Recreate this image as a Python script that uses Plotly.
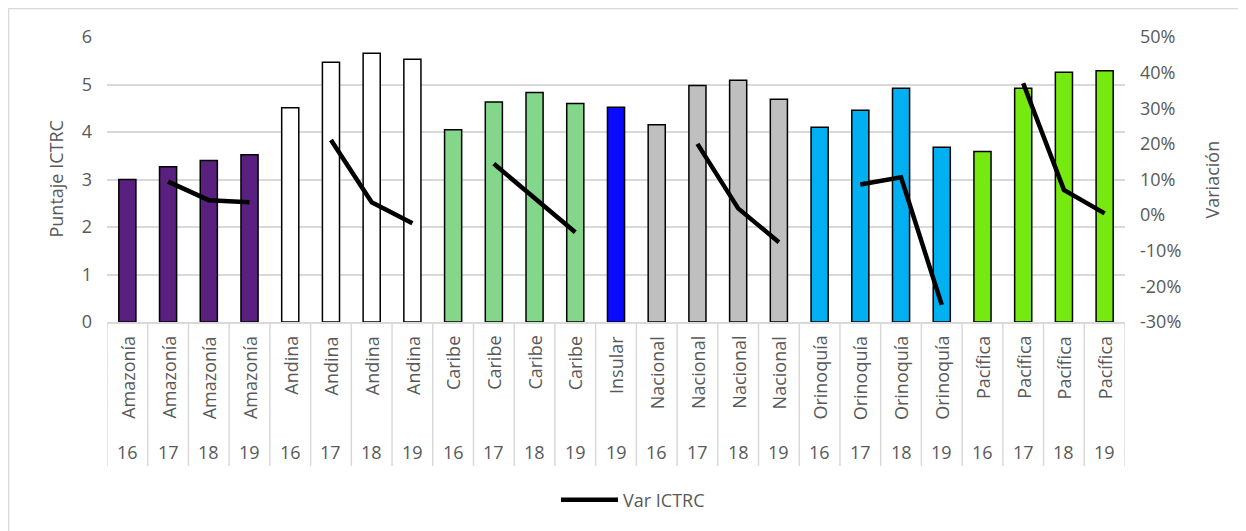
import plotly.graph_objects as go

regions = ["Amazonía"] * 4 + ["Andina"] * 4 + ["Caribe"] * 4 + ["Insular"] + ["Nacional"] * 4 + ["Orinoquía"] * 4 + ["Pacífica"] * 4
years = ["16", "17", "18", "19", "16", "17", "18", "19", "16", "17", "18", "19", "19",
         "16", "17", "18", "19", "16", "17", "18", "19", "16", "17", "18", "19"]
puntaje = [3.00, 3.27, 3.40, 3.52,
           4.51, 5.47, 5.66, 5.53,
           4.05, 4.63, 4.83, 4.60,
           4.52,
           4.15, 4.98, 5.09, 4.69,
           4.10, 4.46, 4.92, 3.68,
           3.59, 4.92, 5.26, 5.29]
var_ictrc = [None, 0.094, 0.042, 0.036,
             None, 0.211, 0.036, -0.023,
             None, 0.144, 0.046, -0.048,
             None,
             None, 0.200, 0.019, -0.076,
             None, 0.086, 0.106, -0.252,
             None, 0.370, 0.071, 0.005]
y2_tickvals = [-0.3, -0.2, -0.1, 0.0, 0.1, 0.2, 0.3, 0.4, 0.5]
y2_ticktext = ["-30%", "-20%", "-10%", "0%", "10%", "20%", "30%", "40%", "50%"]

region_colors = {
    "Amazonía": "#59207F",
    "Andina": "#FFFFFF",
    "Caribe": "#83D68A",
    "Insular": "#0A0AFF",
    "Nacional": "#BFBFBF",
    "Orinoquía": "#00B0F0",
    "Pacífica": "#76EA10",
}

cats = [f"{r} {y}" for r, y in zip(regions, years)]
FONT = "Open Sans"
FS = 18
TXT = "#595959"
GRID = "#D9D9D9"

fig = go.Figure()
fig.add_trace(go.Bar(
    x=cats, y=puntaje,
    marker=dict(color=[region_colors[r] for r in regions],
                line=dict(color="#000000", width=1.5)),
    showlegend=False, name="Puntaje ICTRC",
))
fig.add_trace(go.Scatter(
    x=cats, y=var_ictrc, yaxis="y2", mode="lines",
    line=dict(color="#000000", width=4.5),
    connectgaps=False, name="Var ICTRC",
))

# page body has an 8px margin; work in page pixels and convert
OFF = 8
W, H = 1246 - OFF, 531 - OFF
L, R, T, B = 107 - OFF, 1125 - OFF, 37 - OFF, 322 - OFF
pw, ph = R - L, B - T


def px_x(p):
    return (p - OFF - L) / pw


def px_y(p):
    return (B - (p - OFF)) / ph


shapes = []
# outer border (only top/left visible)
shapes.append(dict(type="rect", xref="paper", yref="paper",
                   x0=px_x(8.5), x1=px_x(1300), y0=px_y(600), y1=px_y(8.5),
                   line=dict(color=GRID, width=1.5), layer="below"))
# category dividers
for i in range(len(cats) + 1):
    shapes.append(dict(type="line", xref="x", yref="paper",
                       x0=i - 0.5, x1=i - 0.5, y0=0, y1=px_y(466),
                       line=dict(color=GRID, width=1.5)))

annotations = []
for c, r, y in zip(cats, regions, years):
    annotations.append(dict(x=c, xref="x", yref="paper", y=px_y(334),
                            text=r, textangle=-90, showarrow=False,
                            xanchor="center", yanchor="top",
                            font=dict(family=FONT, size=FS, color=TXT)))
    annotations.append(dict(x=c, xref="x", yref="paper", y=px_y(452),
                            text=y, showarrow=False,
                            xanchor="center", yanchor="middle",
                            font=dict(family=FONT, size=FS, color=TXT)))
annotations.append(dict(x=px_x(55), y=0.5, xref="paper", yref="paper",
                        text="Puntaje ICTRC", textangle=-90, showarrow=False,
                        xanchor="center", yanchor="middle",
                        font=dict(family=FONT, size=FS, color=TXT)))
annotations.append(dict(x=px_x(1211), y=0.5, xref="paper", yref="paper",
                        text="Variación", textangle=-90, showarrow=False,
                        xanchor="center", yanchor="middle",
                        font=dict(family=FONT, size=FS, color=TXT)))

fig.update_layout(
    width=W, height=H,
    margin=dict(l=L, r=W - R, t=T, b=H - B, autoexpand=False),
    paper_bgcolor="#FFFFFF", plot_bgcolor="#FFFFFF",
    bargap=0.58,
    font=dict(family=FONT, size=FS, color=TXT),
    xaxis=dict(type="category", showticklabels=False, showgrid=False,
               showline=True, linecolor=GRID, linewidth=1.5,
               ticks="", range=[-0.5, len(cats) - 0.5], zeroline=False),
    yaxis=dict(range=[0, 6], dtick=1, showgrid=True, gridcolor=GRID,
               gridwidth=1.5, zeroline=False, ticks="", ticklabelstandoff=14,
               tickfont=dict(family=FONT, size=FS, color=TXT)),
    yaxis2=dict(range=[-0.3, 0.5], tickvals=y2_tickvals, ticktext=y2_ticktext,
                overlaying="y", side="right", showgrid=False,
                zeroline=False, ticks="", ticklabelstandoff=14,
                tickfont=dict(family=FONT, size=FS, color=TXT)),
    legend=dict(orientation="h", x=px_x(556), xanchor="left",
                y=px_y(500), yanchor="middle", itemwidth=57,
                font=dict(family=FONT, size=FS, color=TXT)),
    shapes=shapes, annotations=annotations,
)

fig.write_html("out.html")
